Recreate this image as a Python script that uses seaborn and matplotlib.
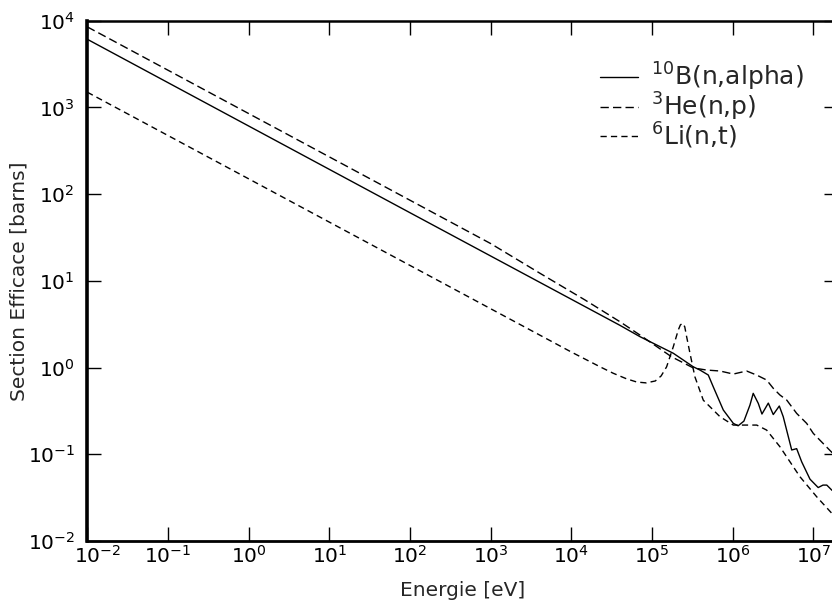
import numpy as np
import pandas as pd
import matplotlib
matplotlib.use("Agg")
import matplotlib.pyplot as plt
from matplotlib.ticker import NullLocator
from matplotlib.transforms import ScaledTranslation
import seaborn as sns

#----------DATA----------#
b10_energy = [1e-2, 1e2, 1e4, 4.0e4, 7.1e4, 1.84e5, 3.25e5, 3.94e5, 4.99e5, 5.75e5,
              7.66e5, 1.02e6, 1.17e6, 1.38e6, 1.64e6, 1.80e6, 2.08e6, 2.31e6, 2.77e6,
              3.19e6, 3.79e6, 4.24e6, 5.40e6, 6.22e6, 7.18e6, 9.10e6, 1.15e7, 1.32e7,
              1.47e7, 1.70e7, 2.0e7]
b10_sigma  = [6100, 61.0, 6.13, 3.07, 2.27, 1.46, 1.02, 0.935, 0.82, 0.60,
              0.324, 0.227, 0.213, 0.241, 0.369, 0.504, 0.386, 0.291, 0.389,
              0.287, 0.360, 0.271, 0.112, 0.116, 0.0818, 0.0516, 0.0413, 0.0441,
              0.0441, 0.0385, 0.036]

he3_energy = [1e-2, 1e2, 1e3, 4.1e3, 1.48e4, 4.0e4, 7.1e4, 1.75e5, 3.25e5, 4.77e5,
              6.97e5, 1.02e6, 1.49e6, 1.99e6, 2.64e6, 3.19e6, 3.86e6, 4.68e6, 6.22e6,
              8.28e6, 1.0e7, 1.70e7, 2.0e7]
he3_sigma  = [8480, 85.0, 26.9, 12.2, 6.01, 3.38, 2.37, 1.33, 0.99, 0.935,
              0.912, 0.841, 0.912, 0.818, 0.718, 0.576, 0.482, 0.422, 0.296,
              0.227, 0.174, 0.105, 0.095]

li6_energy = [1e-2, 1e4, 2.27e4, 3.3e4, 4.86e4, 6.5e4, 8.5e4, 1.1e5, 1.3e5, 1.52e5,
              1.84e5, 2.12e5, 2.25e5, 2.40e5, 2.55e5, 2.69e5, 2.96e5, 3.41e5, 4.33e5,
              5.24e5, 6.97e5, 1.02e6, 1.99e6, 2.64e6, 3.86e6, 6.84e6, 1.10e7, 1.70e7,
              2.0e7]
li6_sigma  = [1496, 1.51, 1.02, 0.86, 0.74, 0.68, 0.665, 0.70, 0.80, 1.02,
              1.74, 2.71, 3.1, 3.24, 2.95, 2.27, 1.46, 0.78, 0.42,
              0.353, 0.271, 0.217, 0.217, 0.190, 0.122, 0.055, 0.0324, 0.0208,
              0.018]

labels = [r"$^{10}$B(n,alpha)", r"$^{3}$He(n,p)", r"$^{6}$Li(n,t)"]
x_ticks = [1e-2, 1e-1, 1e0, 1e1, 1e2, 1e3, 1e4, 1e5, 1e6, 1e7]
y_ticks = [1e-2, 1e-1, 1e0, 1e1, 1e2, 1e3, 1e4]

df = pd.concat([
    pd.DataFrame({"energy": b10_energy, "sigma": b10_sigma, "reaction": labels[0]}),
    pd.DataFrame({"energy": he3_energy, "sigma": he3_sigma, "reaction": labels[1]}),
    pd.DataFrame({"energy": li6_energy, "sigma": li6_sigma, "reaction": labels[2]}),
])

#----------STYLE----------#
sns.set_style("ticks")
plt.rcParams["font.family"] = ["DejaVu Sans"]
plt.rcParams["mathtext.default"] = "regular"
plt.rcParams["axes.unicode_minus"] = False

fig = plt.figure(figsize=(8.32, 6.09), dpi=100)
ax = fig.add_axes([0.1049, 0.1117, 0.9018, 0.8544])

sns.lineplot(
    data=df, x="energy", y="sigma", hue="reaction", style="reaction",
    palette=["black", "black", "black"],
    dashes={labels[0]: "", labels[1]: (6, 3), labels[2]: (4.5, 3)},
    estimator=None, sort=False, linewidth=1.0, ax=ax, legend=True,
)

ax.set(xscale="log", yscale="log")
ax.set_xticks(x_ticks)
ax.set_yticks(y_ticks)
ax.xaxis.set_minor_locator(NullLocator())
ax.yaxis.set_minor_locator(NullLocator())
ax.set_xlim(1e-2, 2e7)
ax.set_ylim(1e-2, 1e4)

ax.tick_params(which="major", direction="in", length=10, width=1,
               top=True, right=True, labelsize=14.5, colors="black")
ax.tick_params(axis="x", pad=3)
ax.tick_params(axis="y", pad=9)

# first x label sits a little right of its tick, as in the original
first = ax.get_xticklabels()[0]
first.set_transform(first.get_transform() + ScaledTranslation(0.10, 0, fig.dpi_scale_trans))

ax.spines["left"].set_linewidth(2.6)
ax.spines["bottom"].set_linewidth(2.0)
ax.spines["top"].set_linewidth(1.8)
ax.spines["right"].set_linewidth(1.8)
for s in ax.spines.values():
    s.set_color("black")

ax.set_xlabel("Energie [eV]", fontsize=14.5, labelpad=10)
ax.set_ylabel("Section Efficace [barns]", fontsize=14.5)
ax.yaxis.set_label_coords(-0.079, 0.5)

handles, _ = ax.get_legend_handles_labels()
ax.legend(handles, labels, frameon=False, fontsize=18, loc="upper left",
          bbox_to_anchor=(600 / 832, 1 - 61 / 609), bbox_transform=fig.transFigure,
          borderaxespad=0, borderpad=0, handlelength=1.5, handletextpad=0.55,
          labelspacing=-0.1)

plt.savefig("out.png", dpi=100)
